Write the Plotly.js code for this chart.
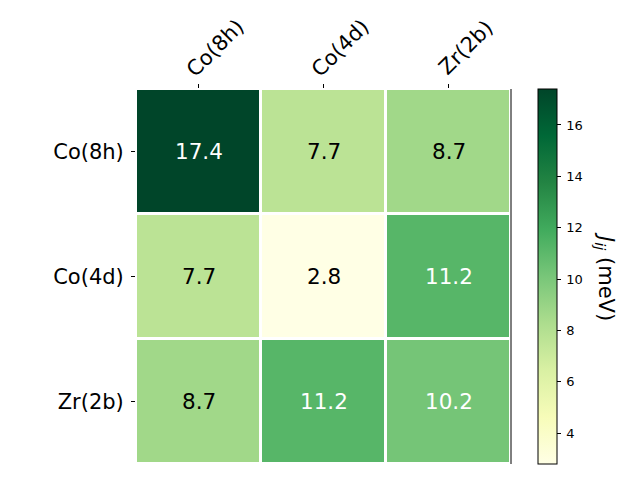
<!DOCTYPE html>
<html><head><meta charset="utf-8">
<script src="https://cdn.plot.ly/plotly-3.0.1.min.js"></script>
<style>body{margin:0;background:#fff}#g{width:640px;height:480px}</style>
</head><body><div id="g"></div>
<script>
const sites = ["Co(8h)", "Co(4d)", "Zr(2b)"];
const jValues = [
  [17.4, 7.7, 8.7],
  [7.7, 2.8, 11.2],
  [8.7, 11.2, 10.2]
];
const cbTicks = [4, 6, 8, 10, 12, 14, 16];
const cbTitle = "<i>J</i><sub><i>ij</i></sub> (meV)";

const ylgn = [
  [0.0, "#ffffe5"], [0.125, "#f7fcb9"], [0.25, "#d9f0a3"], [0.375, "#addd8e"],
  [0.5, "#78c679"], [0.625, "#41ab5d"], [0.75, "#238443"], [0.875, "#006837"], [1.0, "#004529"]
];
const flat = jValues.flat();
const zmin = Math.min(...flat), zmax = Math.max(...flat);
const FONT = "DejaVu Sans";

const annotations = [];
jValues.forEach((row, i) => row.forEach((v, j) => {
  annotations.push({
    x: sites[j], y: sites[i], xref: "x", yref: "y", text: v.toFixed(1), showarrow: false,
    font: {family: FONT, size: 21.5, color: (v - zmin) / (zmax - zmin) > 0.45 ? "#ffffff" : "#000000"}
  });
}));
sites.forEach(s => {
  annotations.push({
    x: s, y: 1, xref: "x", yref: "paper", text: s, showarrow: false, textangle: -45,
    xanchor: "center", yanchor: "middle", xshift: 17, yshift: 41,
    font: {family: FONT, size: 21, color: "#000"}
  });
});
annotations.push({
  x: 1.252, y: 0.5, xref: "paper", yref: "paper", text: cbTitle, showarrow: false, textangle: 90,
  xanchor: "center", yanchor: "middle", font: {family: FONT, size: 21, color: "#000"}
});

const trace = {
  type: "heatmap", x: sites, y: sites, z: jValues, zmin: zmin, zmax: zmax,
  colorscale: ylgn, xgap: 3, ygap: 3, hoverinfo: "skip",
  colorbar: {
    x: 1.072, xanchor: "left", xref: "paper", y: 0.5, yanchor: "middle",
    len: 1, lenmode: "fraction", thickness: 19, thicknessmode: "pixels",
    outlinewidth: 1, outlinecolor: "#000", borderwidth: 0, xpad: 0, ypad: 0,
    tickvals: cbTicks, ticktext: cbTicks.map(t => "\u2009" + t), ticks: "outside", ticklen: 4, tickcolor: "#000",
    tickfont: {family: FONT, size: 13, color: "#000"}
  }
};

const layout = {
  width: 640, height: 480,
  margin: {l: 136, r: 129, t: 89, b: 16},
  paper_bgcolor: "#fff", plot_bgcolor: "#fff",
  xaxis: {side: "top", ticks: "outside", ticklen: 4, tickcolor: "#000", showticklabels: false,
    showgrid: false, zeroline: false, showline: false, fixedrange: true},
  yaxis: {autorange: "reversed", ticks: "outside", ticklen: 4, tickcolor: "#000", ticklabelstandoff: 3,
    tickfont: {family: FONT, size: 21, color: "#000"}, showgrid: false, zeroline: false,
    showline: false, fixedrange: true},
  annotations: annotations,
  shapes: [{type: "line", xref: "paper", yref: "paper", x0: 1, x1: 1, y0: 0, y1: 1,
    line: {color: "#000", width: 1}}]
};
Plotly.newPlot("g", [trace], layout, {staticPlot: true});
</script></body></html>
